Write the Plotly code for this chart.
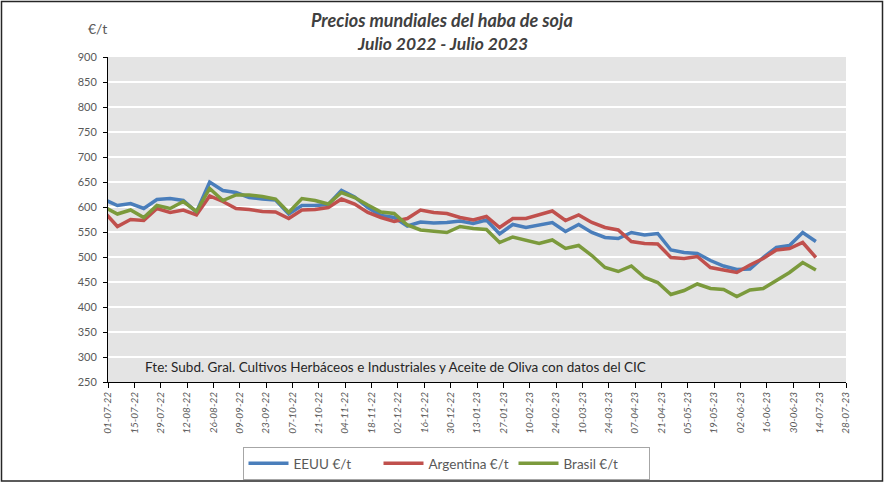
import pandas as pd
import plotly.graph_objects as go

# Weekly observations (Wednesdays), 29-06-2022 .. 12-07-2023
fechas = pd.date_range("2022-06-29", periods=55, freq="7D")

eeuu = [615, 603, 607, 597, 615, 617, 613, 590, 650, 633,
        629, 619, 616, 614, 586, 603, 603, 605, 633, 620,
        599, 583, 579, 562, 570, 568, 569, 572, 567, 574,
        546, 565, 559, 564, 569, 551, 565, 549, 539, 537,
        549, 544, 547, 514, 509, 507, 493, 482, 475, 476,
        499, 519, 523, 549, 531]

argentina = [590, 561, 575, 573, 597, 589, 594, 584, 622, 611,
             597, 595, 591, 590, 577, 594, 595, 599, 616, 606,
             589, 579, 571, 577, 594, 589, 587, 579, 574, 581,
             559, 577, 577, 584, 592, 573, 584, 569, 559, 554,
             531, 527, 526, 499, 497, 501, 479, 474, 469, 484,
             497, 514, 517, 529, 499]

brasil = [600, 586, 594, 579, 603, 597, 611, 591, 637, 613,
          624, 624, 621, 616, 589, 617, 613, 606, 629, 619,
          604, 590, 587, 564, 554, 551, 549, 561, 557, 555,
          529, 540, 533, 527, 534, 517, 523, 503, 479, 471,
          482, 459, 449, 425, 433, 446, 437, 435, 421, 434,
          437, 454, 469, 489, 474]

series_names = ["EEUU €/t", "Argentina €/t", "Brasil €/t"]
series_colors = ["#4A7EBB", "#C0504D", "#7B9A3C"]

tick_dates = pd.date_range("2022-07-01", "2023-07-28", freq="14D")
tick_labels = [d.strftime("%d-%m-%y") for d in tick_dates]

FONT = "Lato"
GREY = "#595959"

fig = go.Figure()
for name, vals, col in zip(series_names, [eeuu, argentina, brasil], series_colors):
    fig.add_trace(go.Scatter(x=fechas, y=vals, name=name, mode="lines",
                             line=dict(color=col, width=3.5)))

fig.update_layout(
    width=884, height=483,
    margin=dict(l=108, r=38, t=57, b=101, autoexpand=False),
    paper_bgcolor="white",
    plot_bgcolor="#E4E4E4",
    font=dict(family=FONT, color=GREY, size=11),
    showlegend=True,
    legend=dict(orientation="h", xref="container", yref="container",
                x=446 / 884, xanchor="center", y=1 - 447 / 483, yanchor="top",
                bordercolor="#A6A6A6", borderwidth=1, font=dict(size=13.5, color=GREY),
                itemwidth=40, bgcolor="white", entrywidth=80, entrywidthmode="pixels"),
    xaxis=dict(type="date", range=["2022-07-01", "2023-07-28"],
               tickvals=tick_dates, ticktext=tick_labels, tickangle=-90,
               tickfont=dict(size=10, color=GREY, style="italic"),
               showgrid=False, showline=True, linecolor="black", linewidth=1,
               ticks="outside", ticklen=5, tickcolor="black", zeroline=False),
    yaxis=dict(range=[250, 900], dtick=50, tick0=250,
               tickfont=dict(size=11, color=GREY), ticklabelstandoff=4,
               showgrid=True, gridcolor="white", gridwidth=2,
               showline=True, linecolor="black", linewidth=1,
               ticks="outside", ticklen=4, tickcolor="black", zeroline=False),
)

fig.add_annotation(text="Precios mundiales del haba de soja", xref="paper", yref="paper",
                   x=0.4526, y=(382 - 20) / 325, xanchor="center", yanchor="middle",
                   showarrow=False,
                   font=dict(family=FONT, size=18, color="#404040", style="italic", weight="bold"))
fig.add_annotation(text="Julio 2022 - Julio 2023", xref="paper", yref="paper",
                   x=0.4526, y=(382 - 43) / 325, xanchor="center", yanchor="middle",
                   showarrow=False,
                   font=dict(family=FONT, size=17.5, color="#404040", style="italic", weight="bold"))
fig.add_annotation(text="€/t", xref="paper", yref="paper",
                   x=(97 - 108) / 738, y=(382 - 28) / 325, xanchor="center", yanchor="middle",
                   showarrow=False, font=dict(family=FONT, size=14, color=GREY))
fig.add_annotation(text="Fte: Subd. Gral. Cultivos Herbáceos e Industriales y Aceite de Oliva con datos del CIC",
                   xref="paper", yref="paper", x=(143 - 108) / 738, y=(382 - 367) / 325,
                   xanchor="left", yanchor="middle", showarrow=False,
                   font=dict(family=FONT, size=13.5, color="#262626"))

# outer frame
fig.add_shape(type="rect", xref="paper", yref="paper",
              x0=(1.5 - 108) / 738, x1=(882.5 - 108) / 738,
              y0=(382 - 481) / 325, y1=(382 - 1.5) / 325,
              line=dict(color="#262626", width=1.5), fillcolor="rgba(0,0,0,0)", layer="below")

fig.write_html("out.html", config={"displayModeBar": False},
               post_script="document.body.style.margin='0';document.body.style.overflow='hidden';")
